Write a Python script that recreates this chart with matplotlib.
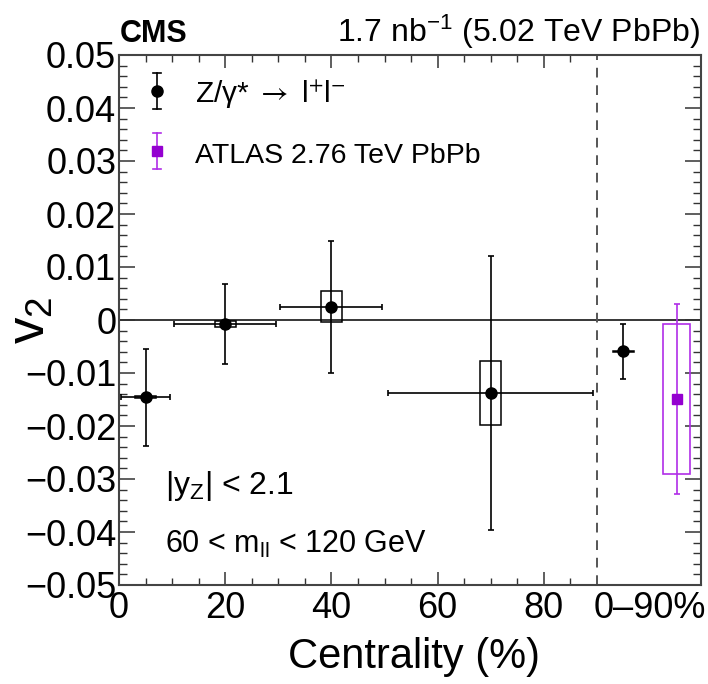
import matplotlib
matplotlib.use("Agg")
import matplotlib.pyplot as plt
from matplotlib.patches import Rectangle
from matplotlib.ticker import FixedLocator

plt.rcParams["font.family"] = ["Liberation Sans", "DejaVu Sans"]
plt.rcParams["mathtext.fontset"] = "custom"
plt.rcParams["mathtext.rm"] = "Liberation Sans"
plt.rcParams["mathtext.it"] = "Liberation Sans:italic"
plt.rcParams["mathtext.bf"] = "Liberation Sans:bold"
plt.rcParams["mathtext.fallback"] = "stix"
plt.rcParams["axes.unicode_minus"] = True

# CMS Z boson v2 in centrality bins
cent = [5, 20, 40, 70]
cent_err = [4.6, 9.6, 9.6, 19.3]
v2 = [-0.0146, -0.0008, 0.0025, -0.0138]
v2_stat = [0.0091, 0.0075, 0.0125, 0.0258]
v2_sys = [0.0002, 0.0006, 0.0029, 0.0061]

# integrated 0-90%
int_x = [95]
int_v2 = [-0.0059]
int_stat = [0.0052]
int_sys = [0.0001]

# ATLAS 2.76 TeV
atlas_x = [105]
atlas_v2 = [-0.0149]
atlas_stat = [0.0180]
atlas_sys = [0.0141]

xtick_vals = [0, 20, 40, 60, 80, 100]
xtick_labels = ["0", "20", "40", "60", "80", "0–90%"]
ytick_vals = [0.05, 0.04, 0.03, 0.02, 0.01, 0, -0.01, -0.02, -0.03, -0.04, -0.05]
ytick_labels = ["0.05", "0.04", "0.03", "0.02", "0.01", "0",
                "−0.01", "−0.02", "−0.03", "−0.04", "−0.05"]

atlas_col = "#b02ee8"
atlas_fill = "#9400d0"

fig = plt.figure(figsize=(7.08, 6.84), dpi=100)
ax = fig.add_axes([119 / 708, 1 - 585 / 684, 582 / 708, 530 / 684])
ax.set_xlim(0, 109.6)
ax.set_ylim(-0.05, 0.05)

# reference lines
ax.axhline(0, color="black", lw=1.1, zorder=1)
ax.axvline(90, color="#555555", lw=1.4, ls=(0, (5, 4)), zorder=1)

# systematic boxes
box_w = 2.0
for x, y, s in zip(cent + int_x, v2 + int_v2, v2_sys + int_sys):
    ax.add_patch(Rectangle((x - box_w, y - s), 2 * box_w, 2 * s, fill=False,
                           edgecolor="black", lw=1.1, zorder=2))
for x, y, s in zip(atlas_x, atlas_v2, atlas_sys):
    ax.add_patch(Rectangle((x - 2.5, y - s), 5.0, 2 * s, fill=False,
                           edgecolor=atlas_col, lw=1.2, zorder=2))

# data points
ax.errorbar(cent, v2, xerr=cent_err, yerr=v2_stat, fmt="o", color="black",
            ms=8, elinewidth=1.2, capsize=2, capthick=1.2, zorder=3)
ax.errorbar(int_x, int_v2, yerr=int_stat, fmt="o", color="black",
            ms=8, elinewidth=1.2, capsize=2, capthick=1.2, zorder=3)
ax.errorbar(atlas_x, atlas_v2, yerr=atlas_stat, fmt="s", color=atlas_col,
            mfc=atlas_fill, mec=atlas_fill, ms=7.5, elinewidth=1.2,
            capsize=2, capthick=1.2, zorder=3)

# hand made legend, ROOT style
lx = 0.0653
for ly, col, mk, fc in [(0.9326, "black", "o", "black"), (0.819, atlas_col, "s", atlas_fill)]:
    ax.plot([lx, lx], [ly - 0.034, ly + 0.034], color=col, lw=1.2, transform=ax.transAxes)
    for yy in (ly - 0.034, ly + 0.034):
        ax.plot([lx - 0.007, lx + 0.007], [yy, yy], color=col, lw=1.2, transform=ax.transAxes)
    ax.plot([lx], [ly], marker=mk, ms=8 if mk == "o" else 7.5, color=fc,
            transform=ax.transAxes)
ax.text(0.1306, 0.909, "Z/γ* $\\rightarrow$ l$^{+}$l$^{-}$", transform=ax.transAxes,
        fontsize=21.5, va="baseline", math_fontfamily="stixsans")
ax.text(0.1306, 0.7957, "ATLAS 2.76 TeV PbPb", transform=ax.transAxes,
        fontsize=20.5, va="baseline")

ax.text(0.079, 0.1717, "|y$_{\\mathrm{Z}}$| < 2.1", transform=ax.transAxes,
        fontsize=23, va="baseline")
ax.text(0.079, 0.060, "60 < m$_{\\mathrm{ll}}$ < 120 GeV", transform=ax.transAxes,
        fontsize=22, va="baseline")

# axes styling
ax.xaxis.set_major_locator(FixedLocator(xtick_vals))
ax.set_xticklabels(xtick_labels)
ax.xaxis.set_minor_locator(FixedLocator([5, 10, 15, 25, 30, 35, 45, 50, 55, 65, 70, 75, 85]))
ax.yaxis.set_major_locator(FixedLocator(ytick_vals))
ax.set_yticklabels(ytick_labels)
ax.yaxis.set_minor_locator(FixedLocator([i * 0.002 - 0.05 for i in range(51)]))
ax.tick_params(axis="both", which="both", direction="in", top=True, right=True,
               labelsize=26, color="#333333")
ax.tick_params(axis="x", which="major", length=9.5, width=1.1, pad=4)
ax.tick_params(axis="x", which="minor", length=4.8, width=1.0)
ax.tick_params(axis="y", which="major", length=11.5, width=1.1, pad=2)
ax.tick_params(axis="y", which="minor", length=5.8, width=1.0)
last = ax.xaxis.get_major_ticks()[-1]
last.tick1line.set_visible(False)
last.tick2line.set_visible(False)
for sp in ax.spines.values():
    sp.set_color("#444444")
    sp.set_linewidth(1.5)

ax.set_xlabel("Centrality (%)", fontsize=30, loc="right")
ax.xaxis.set_label_coords(1.0 - (701 - 540) / 582, -(637 - 585) / 530)
ax.set_ylabel("$\\mathrm{v}_{2}$", fontsize=38)
ax.yaxis.set_label_coords(-(119 - 56) / 582, 0.5)

fig.text(120 / 708, 1 - 42 / 684, "CMS", fontsize=22, fontweight="bold", va="baseline")
fig.text(700 / 708, 1 - 42 / 684, "1.7 nb$^{-1}$ (5.02 TeV PbPb)", fontsize=23,
         ha="right", va="baseline")

fig.savefig("out.png", dpi=100)
